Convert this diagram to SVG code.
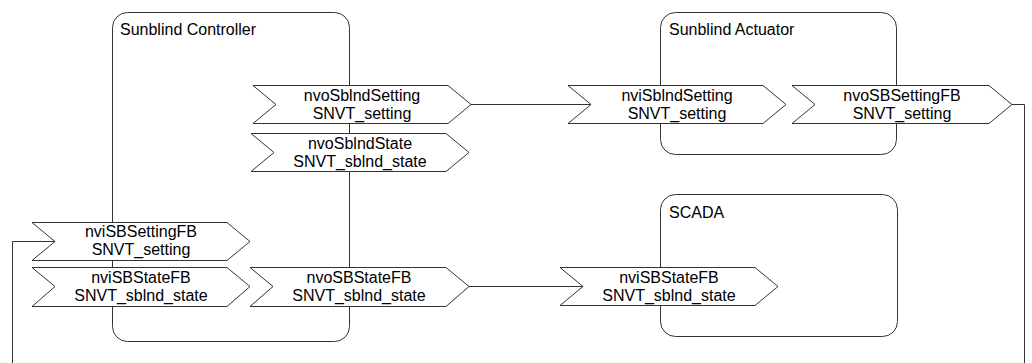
<svg xmlns="http://www.w3.org/2000/svg" width="1032" height="363" viewBox="0 0 1032 363">
<style>
.box{fill:none;stroke:#333;stroke-width:1}
.port{fill:#fff;stroke:#333;stroke-width:1}
.lbl{font-family:"Liberation Sans",Arial,sans-serif;font-size:16px;fill:#000}
.t{font-family:"Liberation Sans",Arial,sans-serif;font-size:16px;fill:#000;text-anchor:middle}
.wire{fill:none;stroke:#333;stroke-width:1}
</style>
<rect width="1032" height="363" fill="#fff"/>
<g id="controller">
<rect class="box" x="112.5" y="12.5" width="237" height="329" rx="15"/>
<text class="lbl" x="120" y="35">Sunblind Controller</text>
</g>
<g id="actuator">
<rect class="box" x="660.5" y="12.5" width="236" height="142" rx="15"/>
<text class="lbl" x="669" y="35">Sunblind Actuator</text>
</g>
<g id="scada">
<rect class="box" x="660.5" y="194.5" width="237" height="142" rx="15"/>
<text class="lbl" x="669" y="218">SCADA</text>
</g>
<g id="connectors">
<path class="wire" d="M471,104.5 H591"/>
<path class="wire" d="M469,286.5 H583"/>
<path class="wire" d="M1012,104.5 H1024.5 V363"/>
<path class="wire" d="M12.5,363 V241.5 H55"/>
</g>
<g id="ctrl-nvoSblndSetting">
<polygon class="port" points="253,85.5 448,85.5 471,104.5 448,123.5 253,123.5 276,104.5"/>
<text class="t" x="362" y="100.5">nvoSblndSetting</text>
<text class="t" x="362" y="118.5">SNVT_setting</text>
</g>
<g id="ctrl-nvoSblndState">
<polygon class="port" points="251,133.5 446,133.5 469,152.5 446,171.5 251,171.5 274,152.5"/>
<text class="t" x="360" y="148.5">nvoSblndState</text>
<text class="t" x="360" y="166.5">SNVT_sblnd_state</text>
</g>
<g id="ctrl-nviSBSettingFB">
<polygon class="port" points="32,222.5 227,222.5 250,241.5 227,260.5 32,260.5 55,241.5"/>
<text class="t" x="141" y="237">nviSBSettingFB</text>
<text class="t" x="141" y="255">SNVT_setting</text>
</g>
<g id="ctrl-nviSBStateFB">
<polygon class="port" points="32,267.5 227,267.5 250,286.5 227,306.5 32,306.5 55,286.5"/>
<text class="t" x="141" y="283">nviSBStateFB</text>
<text class="t" x="141" y="301">SNVT_sblnd_state</text>
</g>
<g id="ctrl-nvoSBStateFB">
<polygon class="port" points="250,267.5 446,267.5 469,286.5 446,306.5 250,306.5 273,286.5"/>
<text class="t" x="359" y="283">nvoSBStateFB</text>
<text class="t" x="359" y="301">SNVT_sblnd_state</text>
</g>
<g id="act-nviSblndSetting">
<polygon class="port" points="568,85.5 763,85.5 786,104.5 763,123.5 568,123.5 591,104.5"/>
<text class="t" x="677" y="100.5">nviSblndSetting</text>
<text class="t" x="677" y="118.5">SNVT_setting</text>
</g>
<g id="act-nvoSBSettingFB">
<polygon class="port" points="792,85.5 989,85.5 1012,104.5 989,123.5 792,123.5 815,104.5"/>
<text class="t" x="902" y="100.5">nvoSBSettingFB</text>
<text class="t" x="902" y="118.5">SNVT_setting</text>
</g>
<g id="scada-nviSBStateFB">
<polygon class="port" points="560,267.5 755,267.5 778,286.5 755,305.5 560,305.5 583,286.5"/>
<text class="t" x="669" y="283">nviSBStateFB</text>
<text class="t" x="669" y="301">SNVT_sblnd_state</text>
</g>
</svg>
